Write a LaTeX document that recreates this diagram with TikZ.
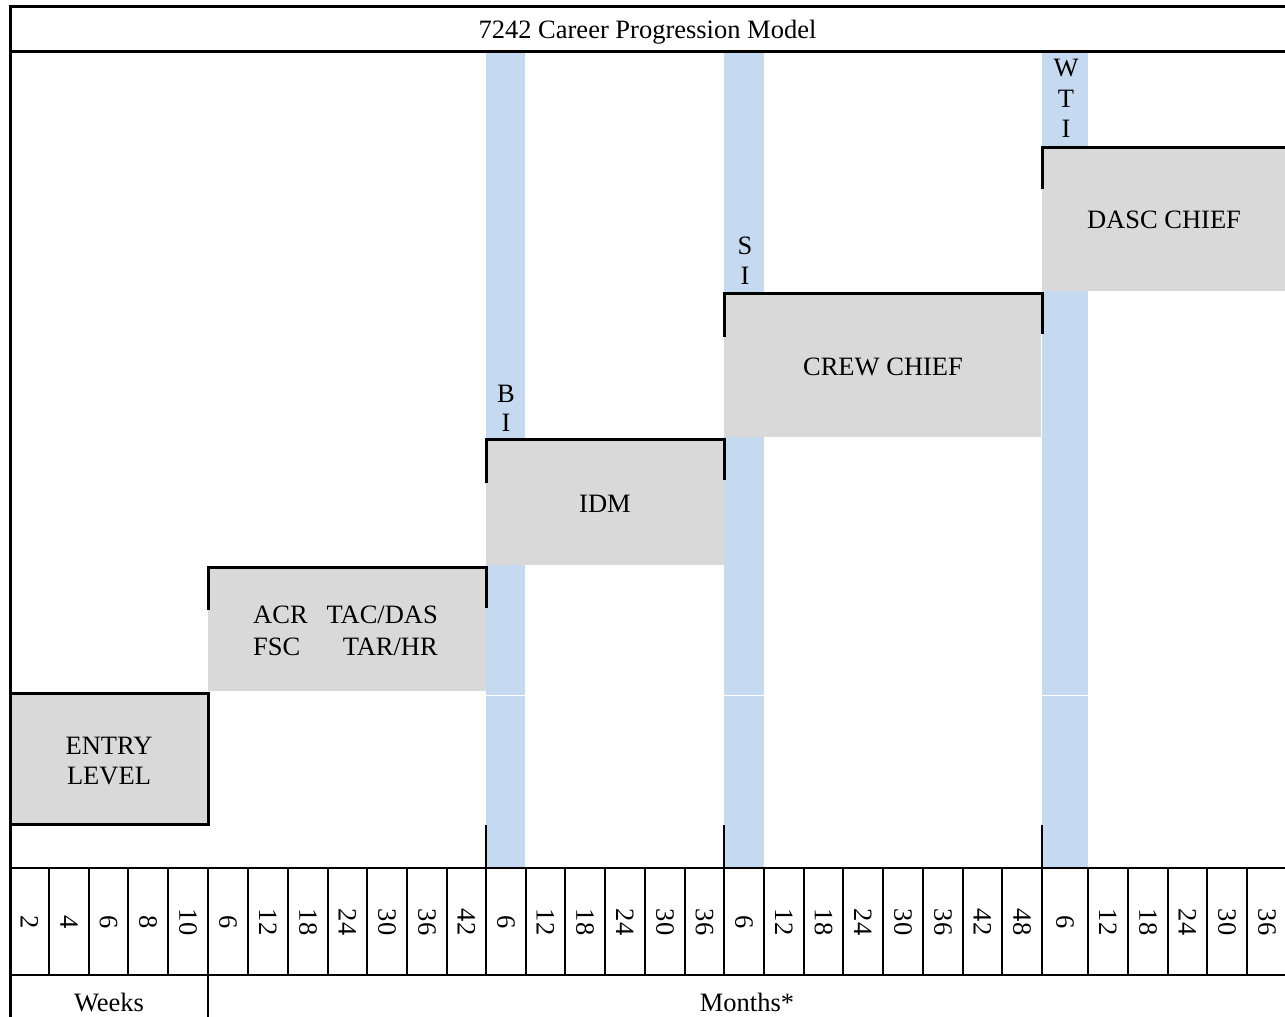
\documentclass[tikz,border=0pt]{standalone}
\usepackage{fontspec}
\setmainfont{Liberation Serif}
\definecolor{bandblue}{HTML}{C5D9F1}
\definecolor{boxgray}{HTML}{D9D9D9}
\tikzset{
  txt/.style={inner sep=0pt, anchor=base, text=black},
  numlab/.style={inner sep=0pt, rotate=-90, anchor=center},
  gbox/.style={fill=boxgray, draw=none, inner sep=0pt, anchor=north west},
  frameline/.style={line width=3pt, line cap=rect},
  tickline/.style={line width=3pt},
  axisline/.style={line width=2.5pt},
  smalltick/.style={line width=2pt},
  band/.style={fill=bandblue, draw=none}
}
\begin{document}
\begin{tikzpicture}[x=1pt,y=-1pt,font=\fontsize{26.5}{30}\selectfont]
\useasboundingbox (0,0) rectangle (1285,1017);
% blue bands
\foreach \a/\b in {486/525, 724/764, 1042/1088} {
  \fill[bandblue] (\a,51) rectangle (\b,694.5);
  \fill[bandblue] (\a,696) rectangle (\b,868);
}
% grey boxes
\node[gbox, minimum width=198pt, minimum height=131pt] (entry) at (10,693) {};
\node[gbox, minimum width=278pt, minimum height=124pt] (acr) at (208,567) {};
\node[gbox, minimum width=238pt, minimum height=126pt] (idm) at (486,439) {};
\node[gbox, minimum width=317pt, minimum height=144pt] (crew) at (724,293) {};
\node[gbox, minimum width=243pt, minimum height=144pt] (dasc) at (1042,147) {};
% frame
\draw[frameline] (1290,6) -- (10,6) -- (10,1020);
\draw[frameline] (10,51) -- (1290,51);
% box borders
\draw[tickline] (10,693) -- (208,693) -- (208,824) -- (10,824);
\draw[tickline] (208,610) -- (208,567) -- (486,567) -- (486,608);
\draw[tickline] (486,483) -- (486,439) -- (724,439) -- (724,480);
\draw[tickline] (724,337) -- (724,293) -- (1042,293) -- (1042,334);
\draw[tickline] (1042,189) -- (1042,147) -- (1290,147);
% small ticks above axis
\foreach \x in {486,724,1042} \draw[smalltick] (\x,825) -- (\x,868);
% axis
\draw[axisline] (10,868) -- (1290,868);
\draw[axisline] (10,975) -- (1290,975);
\foreach \x in {49,89,128,168,208,248,288,328,367,407,447,486,526,565,605,645,685,724,764,804,843,883,923,963,1002,1042,1088,1128,1168,1207,1247}
  \draw[axisline] (\x,868) -- (\x,975);
\draw[axisline] (208,975) -- (208,1020);
\foreach \l/\r/\t [count=\i] in {10/49/2, 49/89/4, 89/128/6, 128/168/8, 168/208/10,
  208/248/6, 248/288/12, 288/328/18, 328/367/24, 367/407/30, 407/447/36, 447/486/42,
  486/526/6, 526/565/12, 565/605/18, 605/645/24, 645/685/30, 685/724/36,
  724/764/6, 764/804/12, 804/843/18, 843/883/24, 883/923/30, 923/963/36, 963/1002/42, 1002/1042/48,
  1042/1088/6, 1088/1128/12, 1128/1168/18, 1168/1207/24, 1207/1247/30, 1247/1287/36}
  \node[numlab] (c\i) at ({(\l+\r)/2},922) {\t};
% texts
\node[txt] (title) at (647.5,38) {7242 Career Progression Model};
\node[txt] (entry1) at (109,754) {ENTRY};
\node[txt] (entry2) at (109,784) {LEVEL};
\node[txt, anchor=base west] (acr1) at (253,623) {ACR};
\node[txt, anchor=base east] (acr2) at (438,623) {TAC/DAS};
\node[txt, anchor=base west] (acr3) at (253,655) {FSC};
\node[txt, anchor=base east] (acr4) at (438,655) {TAR/HR};
\node[txt] (idmt) at (605,512) {IDM};
\node[txt] (crewt) at (883,375) {CREW CHIEF};
\node[txt] (dasct) at (1164,228) {DASC CHIEF};
\node[txt] (b1) at (506,402) {B};
\node[txt] (b2) at (506,431) {I};
\node[txt] (s1) at (745,254) {S};
\node[txt] (s2) at (745,284) {I};
\node[txt] (w1) at (1066,76) {W};
\node[txt] (w2) at (1066,107) {T};
\node[txt] (w3) at (1066,137) {I};
\node[txt] (weeks) at (109,1011) {Weeks};
\node[txt] (months) at (747,1011) {Months*};
\end{tikzpicture}
\end{document}
